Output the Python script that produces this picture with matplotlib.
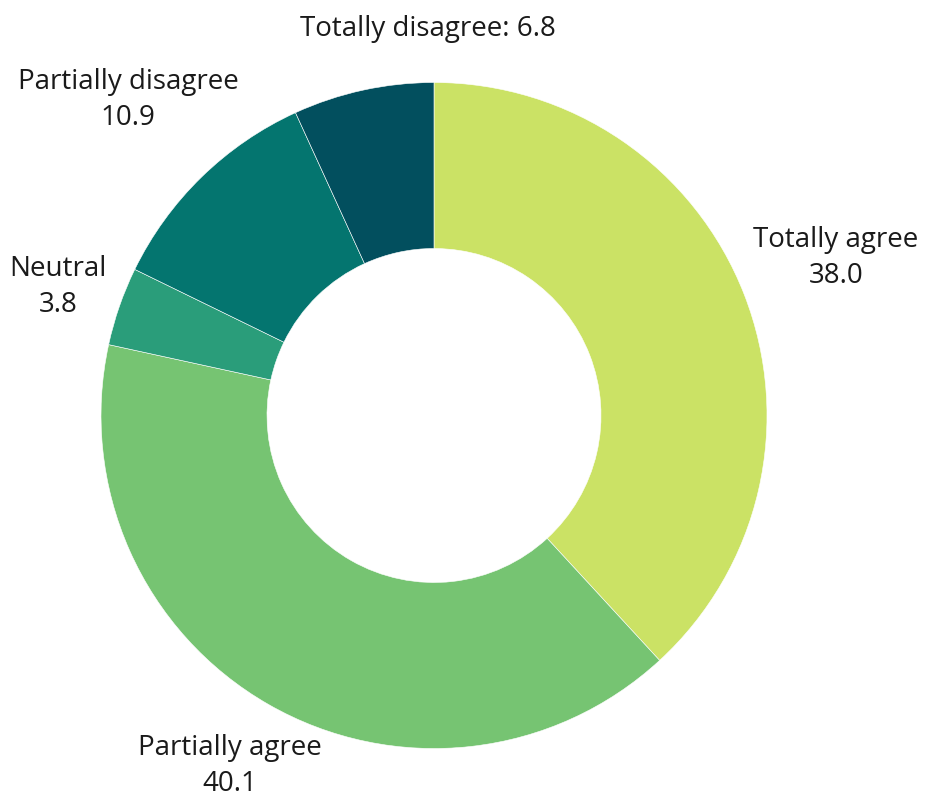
import matplotlib.pyplot as plt

# survey answers, clockwise from the top
categories = ['Totally agree', 'Partially agree', 'Neutral',
              'Partially disagree', 'Totally disagree']
values = [38.0, 40.1, 3.8, 10.9, 6.8]
colors = ['#CBE265', '#76C472', '#2A9D7A', '#04756F', '#024F5E']

# label anchors in pixels (x from left, y from top)
label_pos = [(836, 258), (230, 766), (58, 287), (128, 100), (428, 29)]
one_line = [False, False, False, False, True]

plt.rcParams['font.family'] = ['Open Sans', 'DejaVu Sans']

W, H = 933, 796
fig = plt.figure(figsize=(W / 100, H / 100), dpi=100)
ax = fig.add_axes([0, 0, 1, 1])

ax.pie(values, colors=colors, startangle=90, counterclock=False,
       center=(434, H - 415.5), radius=333,
       wedgeprops=dict(width=166, edgecolor='white', linewidth=0.4))

# pie() resets the limits, so set them afterwards
ax.set_xlim(0, W)
ax.set_ylim(0, H)
ax.set_aspect('equal')
ax.axis('off')

for cat, v, (x, y), one in zip(categories, values, label_pos, one_line):
    txt = f'{cat}: {v:.1f}' if one else f'{cat}\n{v:.1f}'
    ax.text(x, H - y, txt, ha='center', va='center', fontsize=20,
            color='#1a1a1a', linespacing=1.35)

fig.savefig('out.png', dpi=100)
